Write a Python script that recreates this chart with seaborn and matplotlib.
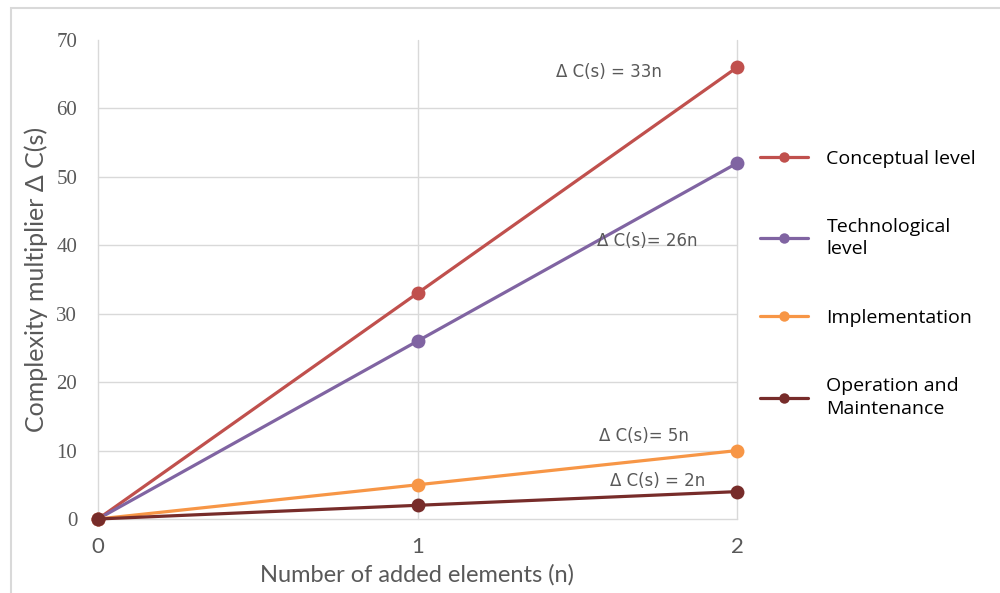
import matplotlib
matplotlib.use("Agg")
import matplotlib.pyplot as plt
from matplotlib.lines import Line2D
from matplotlib.patches import Rectangle
import seaborn as sns
import pandas as pd

# Complexity growth per design level
n_added = [0, 1, 2]
conceptual = [0, 33, 66]
technological = [0, 26, 52]
implementation = [0, 5, 10]
operation = [0, 2, 4]

series_names = ["Conceptual level", "Technological level", "Implementation",
                "Operation and Maintenance"]
legend_labels = ["Conceptual level", "Technological\nlevel", "Implementation",
                 "Operation and\nMaintenance"]
colors = ["#C0504D", "#8064A2", "#F79646", "#772C2A"]

formulas = ["\u0394 C(s) = 33n", "\u0394 C(s)= 26n", "\u0394 C(s)= 5n", "\u0394 C(s) = 2n"]
formula_pos = [(1.60, 65.3), (1.72, 40.6), (1.71, 12.2), (1.75, 5.6)]

y_ticks = [0, 10, 20, 30, 40, 50, 60, 70]
x_ticks = [0, 1, 2]

df = pd.DataFrame({
    "n": n_added * 4,
    "value": conceptual + technological + implementation + operation,
    "series": sum([[s] * len(n_added) for s in series_names], []),
})

sns.set_theme(style="white")
plt.rcParams["font.family"] = ["Open Sans", "DejaVu Sans"]

narrow = ["Lato", "DejaVu Sans"]
grey = "#595959"

fig = plt.figure(figsize=(10, 5.93), dpi=100)
ax = fig.add_axes([0.098, 0.1248, 0.639, 0.8077])

sns.lineplot(data=df, x="n", y="value", hue="series", hue_order=series_names,
             palette=colors, marker="o", markersize=10, markeredgewidth=0,
             linewidth=2.3, legend=False, ax=ax)

ax.set_xlim(0, 2)
ax.set_ylim(0, 70)
ax.set_xticks(x_ticks)
ax.set_yticks(y_ticks)

grid_c = "#D9D9D9"
for y in y_ticks[1:-1]:
    ax.axhline(y, color=grid_c, lw=1, zorder=0)
for x in x_ticks[1:]:
    ax.axvline(x, color=grid_c, lw=1, zorder=0)
for side in ["top", "right"]:
    ax.spines[side].set_visible(False)
for side in ["left", "bottom"]:
    ax.spines[side].set_color(grid_c)
    ax.spines[side].set_linewidth(1)
    ax.spines[side].set_zorder(0)

for line in ax.lines:
    line.set_clip_on(False)

ax.tick_params(axis="both", length=0, colors=grey)
for lab in ax.get_yticklabels():
    lab.set_fontfamily(["Liberation Serif", "DejaVu Serif"])
    lab.set_fontsize(15)
ax.tick_params(axis="y", pad=15)
for lab in ax.get_xticklabels():
    lab.set_fontfamily(narrow)
    lab.set_fontsize(16)
ax.tick_params(axis="x", pad=13)

ax.set_xlabel("Number of added elements (n)", fontsize=17, color=grey,
              family=narrow, labelpad=5)
ax.set_ylabel("Complexity multiplier \u0394 C(s)", fontsize=18, color=grey,
              family=narrow, labelpad=6)

for text, (tx, ty) in zip(formulas, formula_pos):
    ax.text(tx, ty, text, ha="center", va="center", fontsize=12,
            color=grey, family=["Liberation Sans Narrow", "DejaVu Sans"])

handles = [Line2D([0], [0], color=c, lw=2.3, marker="o", markersize=7.5,
                  markeredgewidth=0) for c in colors]
leg = fig.legend(handles, legend_labels, loc="upper left",
                 bbox_to_anchor=(0.752, 0.761), frameon=False,
                 fontsize=14, labelspacing=2.6, handlelength=2.5,
                 handletextpad=0.93, borderaxespad=0)
for t in leg.get_texts():
    t.set_color("#000000")
    t.set_linespacing(1.3)

# chart frame
fig.patches.append(Rectangle((0.011, -0.05), 1.2, 1.036, transform=fig.transFigure,
                             fill=False, edgecolor="#D9D9D9", lw=1.5, clip_on=False))

fig.savefig("out.png", dpi=100)
